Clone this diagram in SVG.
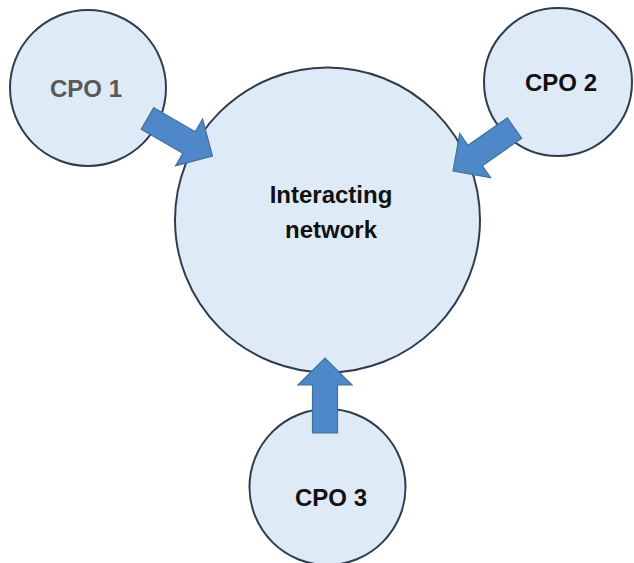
<svg xmlns="http://www.w3.org/2000/svg" xmlns:xlink="http://www.w3.org/1999/xlink" width="634" height="563" viewBox="0 0 634 563">
  <style>
    .node { fill: #deebf7; stroke: #2f3c4f; stroke-width: 2; }
    .label { font-family: "Liberation Sans", Arial, sans-serif; font-weight: bold; font-size: 24px; text-anchor: middle; fill: #111111; }
    .muted { fill: #595959; }
    .flow { fill: #4f88c8; stroke: #41719c; stroke-width: 1.2; stroke-linejoin: miter; }
  </style>
  <defs>
    <!-- block arrow pointing along +x, tail at origin -->
    <path id="blockArrow" d="M0,-12.5 H48 V-27 L75,0 L48,27 V12.5 H0 Z"/>
  </defs>
  <rect width="634" height="563" fill="#ffffff"/>

  <g id="network">
    <circle class="node" cx="327.5" cy="220" r="152.5"/>
    <text class="label" x="331" y="203" font-size="25">Interacting</text>
    <text class="label" x="331" y="238" font-size="25">network</text>
  </g>

  <g id="cpo1">
    <circle class="node" cx="88" cy="88" r="78"/>
    <text class="label muted" x="86" y="97">CPO 1</text>
  </g>

  <g id="cpo2">
    <circle class="node" cx="558" cy="82" r="74"/>
    <text class="label" x="561" y="91">CPO 2</text>
  </g>

  <g id="cpo3">
    <circle class="node" cx="327.5" cy="487" r="78"/>
    <text class="label" x="331" y="506">CPO 3</text>
  </g>

  <g id="connectors">
    <use class="flow" xlink:href="#blockArrow" transform="translate(147.5,118.5) rotate(30)"/>
    <use class="flow" xlink:href="#blockArrow" transform="translate(514.5,128) rotate(145)"/>
    <use class="flow" xlink:href="#blockArrow" transform="translate(325,433) rotate(-90)"/>
  </g>
</svg>
